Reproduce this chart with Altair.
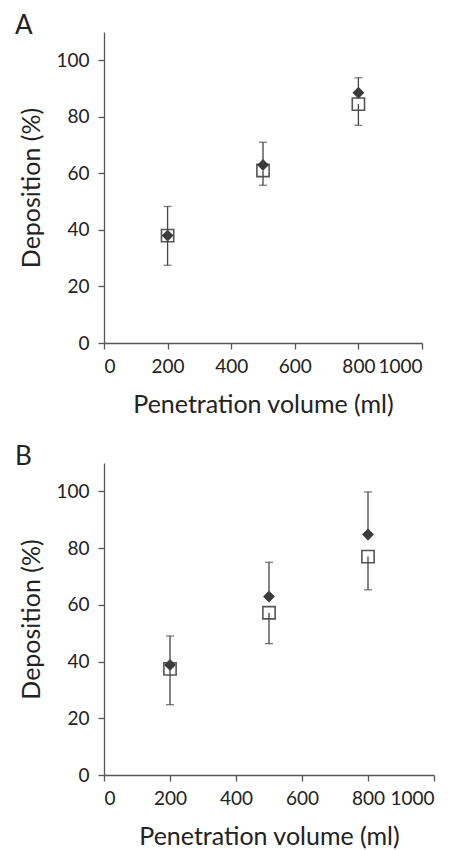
import altair as alt
import pandas as pd

volumes = [200, 500, 800]

# Panel A
a_diamond = [38.0, 63.0, 88.5]
a_square = [38.0, 61.0, 84.5]
a_low = [27.5, 55.8, 77.0]
a_high = [48.3, 71.0, 93.8]

# Panel B
b_diamond = [38.8, 62.9, 84.8]
b_square = [37.4, 57.2, 77.0]
b_low = [24.8, 46.3, 65.3]
b_high = [49.0, 75.0, 99.8]

x_ticks = [0, 200, 400, 600, 800, 1000]
y_ticks = [0, 20, 40, 60, 80, 100]

FONT = "Lato"
INK = "#555555"


def panel(label, dia, sq, lo, hi, width, height):
    df = pd.DataFrame({"vol": volumes, "dia": dia, "sq": sq, "lo": lo, "hi": hi})
    x = alt.X(
        "vol:Q",
        scale=alt.Scale(domain=[0, 1000], nice=False),
        axis=alt.Axis(
            values=x_ticks,
            format="d",
            title="Penetration volume (ml)",
            grid=False,
            labelFontSize=19,
            titleFontSize=25,
            labelPadding=8,
            titlePadding=16,
            tickSize=6,
        ),
    )
    y_axis = alt.Axis(
        values=y_ticks,
        format="d",
        title="Deposition (%)",
        grid=False,
        labelFontSize=19,
        titleFontSize=25,
        labelPadding=9,
        titlePadding=11,
        tickSize=6,
    )
    yscale = alt.Scale(domain=[0, 110], nice=False)
    base = alt.Chart(df)

    square = base.mark_point(
        shape="square", filled=True, fill="white", stroke=INK,
        strokeWidth=1.6, size=150, opacity=1, fillOpacity=1,
    ).encode(x=x, y=alt.Y("sq:Q", scale=yscale, axis=y_axis))

    diamond = base.mark_point(
        shape="diamond", filled=True, color="#3a3a3a", size=140, opacity=1,
    ).encode(x="vol:Q", y="dia:Q")

    up = base.mark_rule(color="#444444", strokeWidth=1.3).encode(
        x="vol:Q", y="dia:Q", y2="hi:Q"
    )
    down = base.mark_rule(color="#444444", strokeWidth=1.3).encode(
        x="vol:Q", y="sq:Q", y2="lo:Q"
    )
    cap_hi = base.mark_tick(orient="horizontal", size=8, thickness=1.3, color="#444444").encode(
        x="vol:Q", y="hi:Q"
    )
    cap_lo = base.mark_tick(orient="horizontal", size=8, thickness=1.3, color="#444444").encode(
        x="vol:Q", y="lo:Q"
    )

    tag = alt.Chart(pd.DataFrame({"t": [label]})).mark_text(
        fontSize=26, font=FONT, color="#222222", align="left", baseline="alphabetic"
    ).encode(text="t:N", x=alt.value(-89), y=alt.value(2))

    return alt.layer(square, diamond, up, down, cap_hi, cap_lo, tag).properties(
        width=width, height=height
    )


chart = alt.vconcat(
    panel("A", a_diamond, a_square, a_low, a_high, 318, 311),
    panel("B", b_diamond, b_square, b_low, b_high, 330, 312),
    spacing=27,
).properties(
    padding={"left": 7, "top": 5, "right": 5, "bottom": 0}
).configure_view(stroke=None).configure_axis(
    labelFont=FONT,
    titleFont=FONT,
    labelColor="#222222",
    titleColor="#222222",
    titleFontWeight="normal",
    domainColor=INK,
    tickColor=INK,
    domainWidth=1.3,
    tickWidth=1.3,
)

chart.save("out.html", embed_options={"renderer": "svg", "actions": False})
